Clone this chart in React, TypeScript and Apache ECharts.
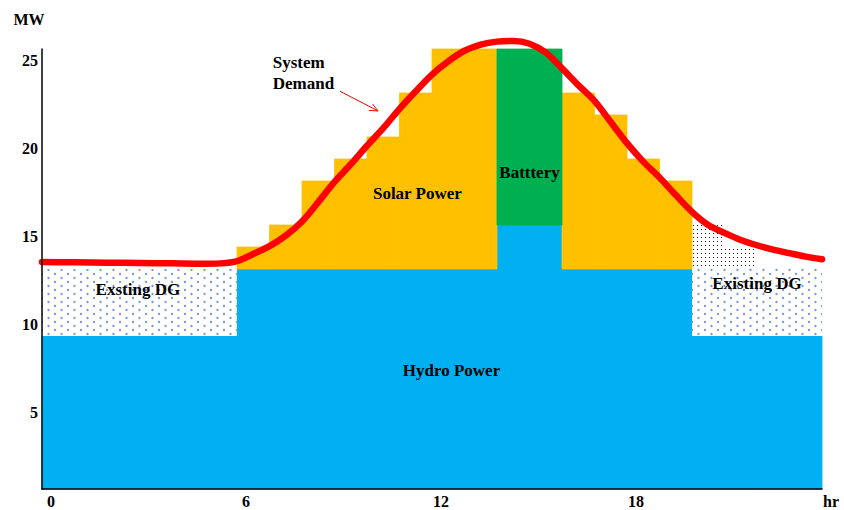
import React, { useEffect, useRef } from "react";
import * as echarts from "echarts";

// hourly blocks (start hour of each block)
const hourStarts = [0, 1, 2, 3, 4, 5, 6, 7, 8, 9, 10, 11, 12, 13, 14, 15, 16, 17, 18, 19, 20, 21, 22, 23];
const hydroMW = [8.7, 8.7, 8.7, 8.7, 8.7, 8.7, 12.5, 12.5, 12.5, 12.5, 12.5, 12.5, 12.5, 12.5, 15, 15, 12.5, 12.5, 12.5, 12.5, 8.7, 8.7, 8.7, 8.7];
const existingDgMW = [3.8, 3.8, 3.8, 3.8, 3.8, 3.8, 0, 0, 0, 0, 0, 0, 0, 0, 0, 0, 0, 0, 0, 0, 3.9, 3.9, 3.9, 3.9];
const dgReserveMW = [0, 0, 0, 0, 0, 0, 0, 0, 0, 0, 0, 0, 0, 0, 0, 0, 0, 0, 0, 0, 2.4, 1.15, 0, 0];
const solarMW = [0, 0, 0, 0, 0, 0, 1.25, 2.5, 5, 6.25, 7.5, 10, 12.5, 12.5, 0, 0, 10, 8.75, 6.25, 5, 0, 0, 0, 0];
const batteryMW = [0, 0, 0, 0, 0, 0, 0, 0, 0, 0, 0, 0, 0, 0, 10, 10, 0, 0, 0, 0, 0, 0, 0, 0];

// system demand curve
const demandHours = [0, 1, 2, 3, 4, 5, 5.5, 6, 6.5, 7, 7.5, 8, 8.5, 9, 9.5, 10, 10.5, 11, 11.5, 12, 12.5, 13, 13.5, 14, 14.5, 15, 15.5, 16, 16.5, 17, 17.5, 18, 18.5, 19, 19.5, 20, 20.5, 21, 21.5, 22, 22.5, 23, 23.5, 24];
const demandMW = [12.9, 12.88, 12.86, 12.84, 12.82, 12.8, 12.82, 12.95, 13.35, 13.8, 14.4, 15.2, 16.3, 17.45, 18.45, 19.5, 20.5, 21.6, 22.6, 23.55, 24.3, 24.9, 25.25, 25.42, 25.45, 25.3, 24.8, 23.9, 22.95, 22.05, 20.85, 19.65, 18.6, 17.7, 16.7, 15.75, 15.0, 14.55, 14.15, 13.85, 13.6, 13.4, 13.2, 13.05];

// axis ticks
const xTickValues = [0, 6, 12, 18, 24];
const yTickValues = [5, 10, 15, 20, 25];

// annotations [hour, MW, text]
const annotations: [number, number, string][] = [
  [2.95, 11.36, "Exsting DG"],
  [22.0, 11.7, "Existing DG"],
  [11.55, 16.8, "Solar Power"],
  [15.0, 18.0, "Batttery"],
  [12.6, 6.76, "Hydro Power"],
];
const demandNote: [number, number, string] = [7.1, 23.66, "System\nDemand"];
const arrowFrom = [9.17, 22.6];
const arrowTo = [10.34, 21.48];

const FONT = '"Liberation Serif", "Times New Roman", serif';

function blocks(values: number[], bases: number[]) {
  const out: number[][] = [];
  for (let i = 0; i < hourStarts.length; i++) {
    const v = values[i];
    if (!v) continue;
    const b = bases[i];
    const t = b + v;
    const s = hourStarts[i];
    const e = s + 1;
    const last = out[out.length - 1];
    if (last && last[1] === s && last[2] === b && last[3] === t) last[1] = e;
    else out.push([s, e, b, t]);
  }
  return out;
}

function dotPattern(w: number, h: number, dots: number[][], color: string, r: number, square = false) {
  const c = document.createElement("canvas");
  c.width = w;
  c.height = h;
  const ctx = c.getContext("2d")!;
  ctx.fillStyle = "#ffffff";
  ctx.fillRect(0, 0, w, h);
  ctx.fillStyle = color;
  dots.forEach(([x, y]) => {
    if (square) {
      ctx.fillRect(x, y, r, r);
    } else {
      ctx.beginPath();
      ctx.arc(x, y, r, 0, Math.PI * 2);
      ctx.fill();
    }
  });
  return { image: c.toDataURL(), repeat: "repeat", imageWidth: w, imageHeight: h } as any;
}

export default function App() {
  const ref = useRef<HTMLDivElement>(null);
  useEffect(() => {
    if (!ref.current) return;
    const chart = echarts.init(ref.current, undefined, { renderer: "svg" });

    const zero = hourStarts.map(() => 0);
    const base1 = hydroMW.slice();
    const base2 = hydroMW.map((v, i) => v + existingDgMW[i]);
    const base3 = hydroMW.map((v, i) => v + solarMW[i]);

    const blueDots = dotPattern(13, 8, [[3, 2], [9.5, 6]], "#7698d2", 1.15);
    const blackDots = dotPattern(4, 4, [[1, 1]], "#111111", 1, true);

    const rectItem = (fill: any, solid: boolean) => (params: any, api: any) => {
      const p0 = api.coord([api.value(0), api.value(3)]);
      const p1 = api.coord([api.value(1), api.value(2)]);
      return {
        type: "rect",
        shape: { x: p0[0], y: p0[1], width: p1[0] - p0[0], height: p1[1] - p0[1] },
        style: solid ? { fill, stroke: fill, lineWidth: 0.8 } : { fill },
      };
    };

    const rectSeries = (name: string, data: number[][], fill: any, solid = true) => ({
      type: "custom",
      name,
      data,
      encode: { x: [0, 1], y: [2, 3] },
      renderItem: rectItem(fill, solid),
      z: 2,
      silent: true,
    });

    const textStyle = { fontFamily: FONT, fontWeight: "bold", fontSize: 16, color: "#000" };

    const option: any = {
      animation: false,
      grid: { left: 42, right: 22, top: 49, bottom: 21, containLabel: false },
      xAxis: {
        type: "value",
        min: 0,
        max: 24,
        z: 10,
        axisLine: { show: true, lineStyle: { color: "#000", width: 1.5 } },
        axisTick: { show: false },
        splitLine: { show: false },
        axisLabel: {
          customValues: xTickValues,
          formatter: (v: number) => (v === 24 ? "hr" : String(v)),
          margin: 4,
          padding: [0, 0, 0, 18],
          ...textStyle,
        },
      },
      yAxis: {
        type: "value",
        min: 0,
        max: 25,
        z: 10,
        name: "MW",
        nameLocation: "end",
        nameGap: 22,
        nameTextStyle: { ...textStyle, padding: [0, 26, 0, 0] },
        axisLine: { show: true, lineStyle: { color: "#000", width: 1.5 } },
        axisTick: { show: false },
        splitLine: { show: false },
        axisLabel: {
          customValues: yTickValues,
          margin: 4,
          verticalAlign: "top",
          padding: [3, 0, 0, 0],
          ...textStyle,
        },
      },
      series: [
        rectSeries("Hydro Power", blocks(hydroMW, zero), "#00B0F0"),
        rectSeries("Existing DG", blocks(existingDgMW, base1), blueDots, false),
        rectSeries("DG reserve", blocks(dgReserveMW, base2), blackDots, false),
        rectSeries("Solar Power", blocks(solarMW, base1), "#FFC000"),
        rectSeries("Battery", blocks(batteryMW, base3), "#00B050"),
        {
          type: "line",
          name: "System Demand",
          data: demandHours.map((h, i) => [h, demandMW[i]]),
          smooth: 0.3,
          clip: false,
          showSymbol: false,
          symbol: "none",
          lineStyle: { color: "#FF0000", width: 6.5, cap: "round" },
          z: 5,
          silent: true,
        },
        {
          type: "custom",
          name: "labels",
          data: annotations,
          encode: { x: 0, y: 1 },
          z: 6,
          silent: true,
          renderItem: (params: any, api: any) => {
            const p = api.coord([api.value(0), api.value(1)]);
            return {
              type: "text",
              x: p[0],
              y: p[1],
              style: {
                text: annotations[params.dataIndex][2],
                fill: "#000",
                font: `bold 17px ${FONT}`,
                align: "center",
                verticalAlign: "middle",
              },
            };
          },
        },
        {
          type: "custom",
          name: "demand note",
          data: [[demandNote[0], demandNote[1], arrowFrom[0], arrowFrom[1], arrowTo[0], arrowTo[1]]],
          encode: { x: 0, y: 1 },
          z: 6,
          silent: true,
          renderItem: (params: any, api: any) => {
            const p = api.coord([api.value(0), api.value(1)]);
            const a = api.coord([api.value(2), api.value(3)]);
            const b = api.coord([api.value(4), api.value(5)]);
            const ang = Math.atan2(b[1] - a[1], b[0] - a[0]);
            const L = 9;
            const spread = 0.42;
            const w1 = [b[0] - L * Math.cos(ang - spread), b[1] - L * Math.sin(ang - spread)];
            const w2 = [b[0] - L * Math.cos(ang + spread), b[1] - L * Math.sin(ang + spread)];
            return {
              type: "group",
              children: [
                {
                  type: "text",
                  x: p[0],
                  y: p[1],
                  style: {
                    text: demandNote[2],
                    fill: "#000",
                    font: `bold 17px ${FONT}`,
                    align: "left",
                    verticalAlign: "middle",
                    lineHeight: 21,
                  },
                },
                {
                  type: "line",
                  shape: { x1: a[0], y1: a[1], x2: b[0], y2: b[1] },
                  style: { stroke: "#FF0000", lineWidth: 1 },
                },
                {
                  type: "polyline",
                  shape: { points: [w1, b, w2] },
                  style: { stroke: "#FF0000", lineWidth: 1, fill: null },
                },
              ],
            };
          },
        },
      ],
    };
    chart.setOption(option);
    return () => chart.dispose();
  }, []);
  return (
    <div
      ref={ref}
      style={{ position: "fixed", left: 0, top: 0, width: 844, height: 510, background: "#fff" }}
    />
  );
}
